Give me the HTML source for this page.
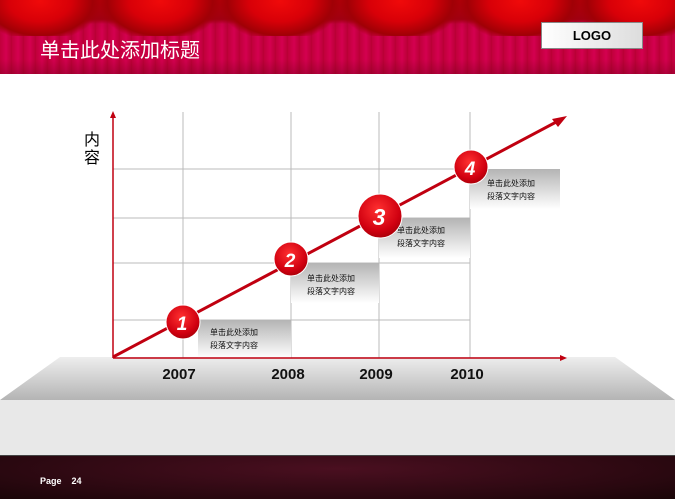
<!DOCTYPE html>
<html><head><meta charset="utf-8"><style>
body{margin:0;width:675px;height:498px;overflow:hidden;background:#fff;font-family:"Liberation Sans","Noto Sans CJK SC",sans-serif;position:relative}
.a{position:absolute}
.box{position:absolute;background:linear-gradient(#b4b4b4,#fff);font-size:8px;line-height:13px;color:#111;box-sizing:border-box}
.yr{position:absolute;top:366px;font-size:15px;font-weight:bold;color:#111;width:60px;text-align:center}
</style></head><body>
<div class="a" style="left:0;top:0;width:675px;height:74px;background:repeating-linear-gradient(90deg,#c0003a 0,#d40050 6px,#b80034 12px),#c0003c"></div>
<div class="a" style="left:0;top:0;width:675px;height:74px;background:linear-gradient(rgba(150,0,20,.6),rgba(0,0,0,0) 40%,rgba(0,0,0,0) 80%,rgba(120,0,30,.4))"></div>
<div class="a" style="left:0;top:0;width:675px;height:24px;background:linear-gradient(#b00008,#a00010 80%,rgba(160,0,16,0))"></div>
<div class="a" style="left:-20px;top:-10px;width:720px;height:46px;background:radial-gradient(ellipse 62px 40px at 50% 25%,#f00a0a 0,#d80008 50%,#a00006 85%,rgba(120,0,10,0) 100%);background-size:120px 46px"></div>
<div class="a" style="left:40px;top:34px;color:#fff;font-size:20px;font-family:'Liberation Sans','WenQuanYi Zen Hei',sans-serif">单击此处添加标题</div>
<div class="a" style="left:541px;top:22px;width:100px;height:25px;background:linear-gradient(90deg,#fff,#ddd);border:1px solid #888;text-align:center;line-height:25px;font-size:13px;font-weight:bold">LOGO</div>

<svg class="a" style="left:0;top:0" width="675" height="498">
<defs>
<linearGradient id="pl" x1="0" y1="0" x2="0" y2="1"><stop offset="0" stop-color="#eee"/><stop offset="1" stop-color="#b4b4b4"/></linearGradient>
<radialGradient id="ball" cx="0.45" cy="0.35" r="0.7"><stop offset="0" stop-color="#ff3030"/><stop offset="0.7" stop-color="#d00010"/><stop offset="1" stop-color="#a00008"/></radialGradient>
</defs>
<polygon points="60,357 615,357 675,400 0,400" fill="url(#pl)"/>
<rect x="0" y="400" width="675" height="55" fill="#e8e8e8"/>
<g stroke="#bbb" stroke-width="1">
<line x1="183" y1="112" x2="183" y2="358"/><line x1="291" y1="112" x2="291" y2="358"/><line x1="379" y1="112" x2="379" y2="358"/><line x1="470" y1="112" x2="470" y2="358"/>
<line x1="113" y1="169" x2="470" y2="169"/><line x1="113" y1="218" x2="470" y2="218"/><line x1="113" y1="263" x2="470" y2="263"/><line x1="113" y1="320" x2="470" y2="320"/>
</g>
</svg>
<div class="box" style="left:198px;top:320px;width:93px;height:38px;padding:6px 0 0 12px">单击此处添加<br>段落文字内容</div>
<div class="box" style="left:291px;top:263px;width:88px;height:40px;padding:9px 0 0 16px">单击此处添加<br>段落文字内容</div>
<div class="box" style="left:379px;top:218px;width:91px;height:40px;padding:6px 0 0 18px">单击此处添加<br>段落文字内容</div>
<div class="box" style="left:470px;top:169px;width:90px;height:40px;padding:8px 0 0 17px">单击此处添加<br>段落文字内容</div>
<svg class="a" style="left:0;top:0" width="675" height="498">
<g stroke="#c00010" stroke-width="1.5" fill="#c00010">
<line x1="113" y1="358" x2="113" y2="116"/><polygon points="113,111 110,118 116,118" stroke="none"/>
<line x1="113" y1="358" x2="562" y2="358"/><polygon points="567,358 560,355 560,361" stroke="none"/>
</g>
<line x1="113" y1="357" x2="560" y2="120" stroke="#c00010" stroke-width="3"/>
<polygon points="567,116 552,119 558,127" fill="#c00010"/>
<g font-family="Liberation Sans" font-weight="bold" font-style="italic" fill="#fff" text-anchor="middle">
<circle cx="183" cy="322" r="17" fill="url(#ball)" stroke="#fff" stroke-width="1"/><text x="182" y="330" font-size="19">1</text>
<circle cx="291" cy="259" r="17" fill="url(#ball)" stroke="#fff" stroke-width="1"/><text x="290" y="267" font-size="19">2</text>
<circle cx="380" cy="216" r="22" fill="url(#ball)" stroke="#fff" stroke-width="1"/><text x="379" y="225" font-size="23">3</text>
<circle cx="471" cy="167" r="17" fill="url(#ball)" stroke="#fff" stroke-width="1"/><text x="470" y="175" font-size="19">4</text>
</g>
</svg>
<div class="a" style="left:84px;top:132px;font-size:16px;line-height:18px;width:18px">内<br>容</div>
<div class="yr" style="left:149px">2007</div>
<div class="yr" style="left:258px">2008</div>
<div class="yr" style="left:346px">2009</div>
<div class="yr" style="left:437px">2010</div>
<div class="a" style="left:0;top:455px;width:675px;height:43px;background:radial-gradient(ellipse at 50% 30%,#4a0f20,#2a0810 70%,#1a0508);border-top:1px solid #444"></div>
<div class="a" style="left:40px;top:476px;color:#fff;font-size:9px;font-weight:bold">Page&nbsp;&nbsp;&nbsp;&nbsp;24</div>
</body></html>
